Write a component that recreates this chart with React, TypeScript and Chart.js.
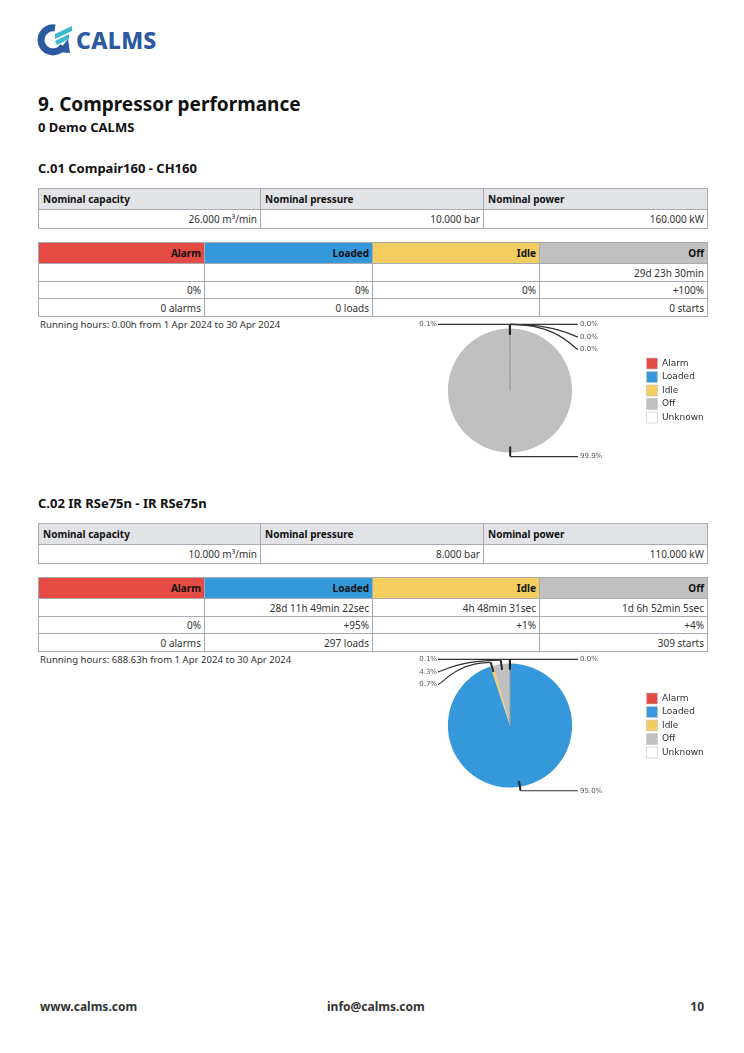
import React, { useEffect, useRef } from 'react';
import { Chart, registerables } from 'chart.js';
Chart.register(...registerables);

// ---------- data ----------
const stateLabels = ['Alarm', 'Loaded', 'Idle', 'Off', 'Unknown'];
const stateColors = ['#e54b45', '#3498db', '#f2cd5f', '#c0c0c0', '#ffffff'];
const pie1Values = [0.0, 0.0, 0.0, 99.9, 0.1];
const pie2Values = [0.0, 95.0, 0.7, 4.3, 0.1];

const nominalHeaders = ['Nominal capacity', 'Nominal pressure', 'Nominal power'];
const nominal1 = ['26.000 m³/min', '10.000 bar', '160.000 kW'];
const nominal2 = ['10.000 m³/min', '8.000 bar', '110.000 kW'];

const stateHeaders = ['Alarm', 'Loaded', 'Idle', 'Off'];
const durations1 = ['', '', '', '29d 23h 30min'];
const percents1 = ['0%', '0%', '0%', '+100%'];
const counts1 = ['0 alarms', '0 loads', '', '0 starts'];
const durations2 = ['', '28d 11h 49min 22sec', '4h 48min 31sec', '1d 6h 52min 5sec'];
const percents2 = ['0%', '+95%', '+1%', '+4%'];
const counts2 = ['0 alarms', '297 loads', '', '309 starts'];

const running1 = 'Running hours: 0.00h from 1 Apr 2024 to 30 Apr 2024';
const running2 = 'Running hours: 688.63h from 1 Apr 2024 to 30 Apr 2024';

// ---------- styles ----------
const FONT = '"Noto Sans", sans-serif';
const BORDER = '#a9abb3';
const TEXT = '#333';

const calloutPlugin = {
  id: 'callout',
  afterDatasetsDraw(chart: any) {
    const ctx = chart.ctx;
    const meta = chart.getDatasetMeta(0);
    const data = chart.data.datasets[0].data as number[];
    const items = meta.data.map((arc: any, i: number) => {
      const p = arc.getProps(['x', 'y', 'startAngle', 'endAngle', 'outerRadius'], true);
      const mid = (p.startAngle + p.endAngle) / 2;
      const c = Math.cos(mid), s = Math.sin(mid);
      return {
        i,
        cx: p.x,
        p0: { x: p.x + c * (p.outerRadius - 6), y: p.y + s * (p.outerRadius - 6) },
        p1: { x: p.x + c * (p.outerRadius + 4), y: p.y + s * (p.outerRadius + 4) },
        right: c > -1e-6,
        text: Number(data[i]).toFixed(1) + '%',
        ly: 0,
      };
    });
    const gap = 12.5;
    [true, false].forEach((side) => {
      const list = items.filter((it: any) => it.right === side).sort((a: any, b: any) => a.p1.y - b.p1.y);
      let prev = -Infinity;
      list.forEach((it: any) => {
        it.ly = Math.max(it.p1.y, prev + gap);
        prev = it.ly;
      });
    });
    ctx.save();
    items.forEach((it: any) => {
      const dir = it.right ? 1 : -1;
      const endX = it.right ? it.cx + 68 : it.cx - 72;
      // tick
      ctx.strokeStyle = '#222';
      ctx.lineWidth = 2;
      ctx.beginPath();
      ctx.moveTo(it.p0.x, it.p0.y);
      ctx.lineTo(it.p1.x, it.p1.y);
      ctx.stroke();
      // leader
      ctx.lineWidth = 1.2;
      ctx.strokeStyle = '#333';
      ctx.beginPath();
      ctx.moveTo(it.p1.x, it.p1.y);
      if (Math.abs(it.ly - it.p1.y) < 0.5) {
        ctx.lineTo(endX, it.p1.y);
      } else {
        ctx.bezierCurveTo(endX - dir * 18, it.p1.y, endX - dir * 4, it.ly, endX, it.ly);
      }
      ctx.stroke();
      ctx.fillStyle = '#555';
      ctx.font = '7px "DejaVu Sans"';
      ctx.textBaseline = 'middle';
      ctx.textAlign = it.right ? 'left' : 'right';
      ctx.fillText(it.text, it.right ? endX + 2 : endX - 1, it.ly);
    });
    ctx.restore();
  },
};

function PieChart({ values, top }: { values: number[]; top: number }) {
  const ref = useRef<HTMLCanvasElement>(null);
  useEffect(() => {
    const chart = new Chart(ref.current as HTMLCanvasElement, {
      type: 'pie',
      data: {
        labels: stateLabels,
        datasets: [
          {
            data: values,
            backgroundColor: stateColors,
            borderColor: '#999',
            borderWidth: [0, 0, 0, 0, 0.8],
            hoverOffset: 0,
          },
        ],
      },
      options: {
        responsive: false,
        animation: false,
        devicePixelRatio: 1,
        layout: { padding: { top: 12, bottom: 12, left: 0, right: 0 } },
        plugins: {
          legend: {
            position: 'right',
            maxWidth: 62,
            labels: {
              boxWidth: 11,
              boxHeight: 11,
              padding: 2.5,
              color: '#333',
              font: { family: 'DejaVu Sans', size: 9 },
              generateLabels: (c: any) =>
                (Chart as any).overrides.pie.plugins.legend.labels
                  .generateLabels(c)
                  .map((l: any) => ({ ...l, strokeStyle: '#c4c4c4', lineWidth: 0.6 })),
            },
          },
          tooltip: { enabled: false },
        },
      } as any,
      plugins: [calloutPlugin],
    });
    return () => chart.destroy();
  }, []);
  return (
    <canvas
      ref={ref}
      width={330}
      height={149}
      style={{ position: 'absolute', left: 376, top, width: 330, height: 149 }}
    />
  );
}

function Grid({
  top,
  cols,
  rows,
}: {
  top: number;
  cols: number[];
  rows: { h: number; cells: { text: string; bg?: string; bold?: boolean; align?: 'left' | 'right' }[] }[];
}) {
  return (
    <div
      style={{
        position: 'absolute',
        left: 38,
        top,
        borderLeft: `1px solid ${BORDER}`,
        borderTop: `1px solid ${BORDER}`,
        display: 'grid',
        gridTemplateColumns: cols.map((c) => c + 'px').join(' '),
        gridTemplateRows: rows.map((r) => r.h + 'px').join(' '),
      }}
    >
      {rows.map((r, ri) =>
        r.cells.map((c, ci) => (
          <div
            key={ri + '-' + ci}
            style={{
              boxSizing: 'border-box',
              borderRight: `1px solid ${BORDER}`,
              borderBottom: `1px solid ${BORDER}`,
              background: c.bg || '#fff',
              display: 'flex',
              alignItems: 'center',
              justifyContent: c.align === 'left' ? 'flex-start' : 'flex-end',
              padding: c.align === 'left' ? '0 0 0 4px' : '0 3px 0 0',
              fontSize: 10,
              fontWeight: c.bold ? 700 : 400,
              color: c.bold ? '#111' : TEXT,
              whiteSpace: 'nowrap',
              overflow: 'hidden',
            }}
          >
            {c.text}
          </div>
        ))
      )}
    </div>
  );
}

function Section({
  top,
  title,
  nominal,
  durations,
  percents,
  counts,
  running,
  values,
}: {
  top: number;
  title: string;
  nominal: string[];
  durations: string[];
  percents: string[];
  counts: string[];
  running: string;
  values: number[];
}) {
  const stateBg = stateColors.slice(0, 4);
  return (
    <>
      <div style={{ position: 'absolute', left: 38, top: top, fontSize: 13, lineHeight: '16px', fontWeight: 700, color: '#111' }}>
        {title}
      </div>
      <Grid
        top={top + 28}
        cols={[222, 223, 224]}
        rows={[
          { h: 21, cells: nominalHeaders.map((t) => ({ text: t, bold: true, bg: '#e2e3e7', align: 'left' as const })) },
          { h: 19, cells: nominal.map((t) => ({ text: t })) },
        ]}
      />
      <Grid
        top={top + 82}
        cols={[166, 168, 167, 168]}
        rows={[
          { h: 21, cells: stateHeaders.map((t, i) => ({ text: t, bold: true, bg: stateBg[i] })) },
          { h: 18, cells: durations.map((t) => ({ text: t })) },
          { h: 17, cells: percents.map((t) => ({ text: t })) },
          { h: 18, cells: counts.map((t) => ({ text: t })) },
        ]}
      />
      <div style={{ position: 'absolute', left: 40, top: top + 159, fontSize: 9.6, lineHeight: '12px', color: TEXT, whiteSpace: 'nowrap' }}>
        {running}
      </div>
      <PieChart values={values} top={top + 156} />
    </>
  );
}

function Logo() {
  return (
    <div style={{ position: 'absolute', left: 36, top: 23, height: 34, display: 'flex', alignItems: 'center' }}>
      <svg width={38} height={34} viewBox="0 0 38 34">
        <path d="M 19 5 A 12 12 0 1 0 27.4 23" stroke="#2c5aa0" strokeWidth={7} fill="none" />
        <polygon points="22,29 34,30 32,16" fill="#2c5aa0" />
        <polygon points="19,11 36,3 36,8 19,16" fill="#3fb8cf" />
        <polygon points="19,18 33,11 33,16 21,22" fill="#3fb8cf" />
      </svg>
      <span
        style={{
          marginLeft: 2,
          fontSize: 23,
          fontWeight: 800,
          color: '#2c5aa0',
          letterSpacing: 0.3,
          lineHeight: '34px',
        }}
      >
        CALMS
      </span>
    </div>
  );
}

export default function App() {
  return (
    <div
      style={{
        position: 'absolute',
        left: 0,
        top: 0,
        width: 744,
        height: 1053,
        background: '#fff',
        fontFamily: FONT,
        overflow: 'hidden',
      }}
    >
      <Logo />
      <div style={{ position: 'absolute', left: 38, top: 91, fontSize: 19, lineHeight: '26px', fontWeight: 700, color: '#111' }}>
        9. Compressor performance
      </div>
      <div style={{ position: 'absolute', left: 38, top: 119, fontSize: 13, lineHeight: '16px', fontWeight: 700, color: '#111' }}>
        0 Demo CALMS
      </div>
      <Section
        top={160}
        title="C.01 Compair160 - CH160"
        nominal={nominal1}
        durations={durations1}
        percents={percents1}
        counts={counts1}
        running={running1}
        values={pie1Values}
      />
      <Section
        top={495}
        title="C.02 IR RSe75n - IR RSe75n"
        nominal={nominal2}
        durations={durations2}
        percents={percents2}
        counts={counts2}
        running={running2}
        values={pie2Values}
      />
      <div style={{ position: 'absolute', left: 40, top: 999, fontSize: 12, lineHeight: '16px', fontWeight: 700, color: '#333' }}>
        www.calms.com
      </div>
      <div style={{ position: 'absolute', left: 327, top: 999, fontSize: 12, lineHeight: '16px', fontWeight: 700, color: '#333' }}>
        info@calms.com
      </div>
      <div style={{ position: 'absolute', right: 40, top: 999, fontSize: 12, lineHeight: '16px', fontWeight: 700, color: '#333' }}>
        10
      </div>
    </div>
  );
}
